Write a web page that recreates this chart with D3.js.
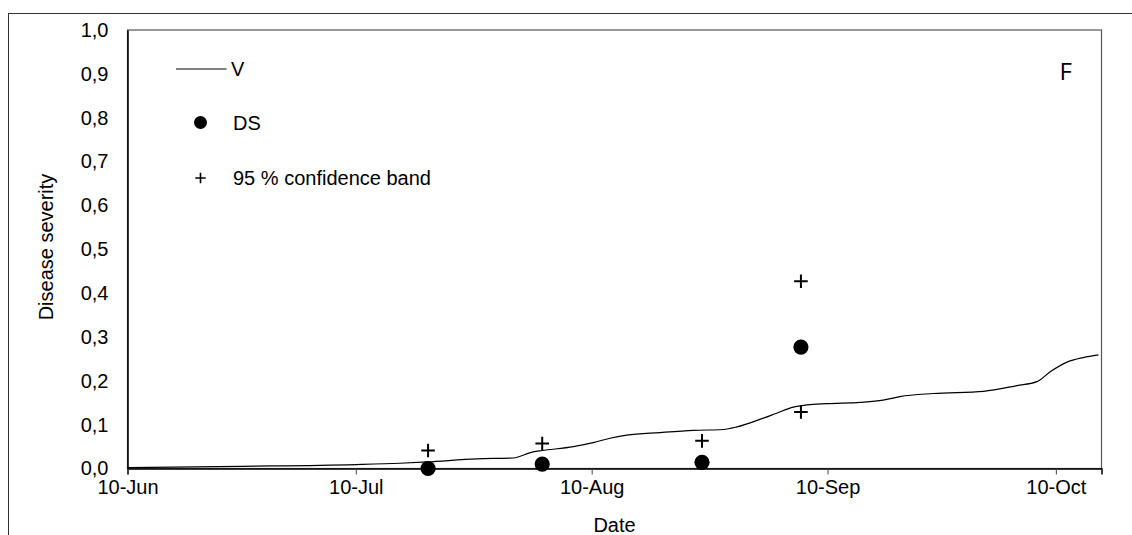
<!DOCTYPE html>
<html>
<head>
<meta charset="utf-8">
<script src="https://cdn.jsdelivr.net/npm/d3@7"></script>
<style>
  html, body { margin: 0; padding: 0; background: #fff; }
  svg { display: block; font-family: "Liberation Sans", Arial, sans-serif; }
</style>
</head>
<body>
<svg id="chart" width="1132" height="535"></svg>
<script>
// ---- data (days after 10-Jun) ----
const tickDays = [0, 30, 61, 92, 122];
const tickLabels = ["10-Jun", "10-Jul", "10-Aug", "10-Sep", "10-Oct"];
const yTickValues = [0, 0.1, 0.2, 0.3, 0.4, 0.5, 0.6, 0.7, 0.8, 0.9, 1.0];

const vDays = [0, 15, 30, 35.8, 39.4, 45.9, 50.7, 53.3, 54.5, 58.6, 61.2, 63.4, 65.6, 70.0, 74.4, 78.3, 80.1, 83.1, 85.3, 87.5, 89.3, 91.9, 96.3, 99.3, 101.5, 105.9, 112.5, 116.9, 119.5, 121.3, 123.4, 125.6, 127.6];
const vValues = [0.002, 0.005, 0.009, 0.012, 0.015, 0.022, 0.024, 0.038, 0.041, 0.050, 0.059, 0.069, 0.076, 0.082, 0.087, 0.089, 0.095, 0.112, 0.126, 0.140, 0.145, 0.148, 0.151, 0.156, 0.164, 0.171, 0.176, 0.189, 0.198, 0.221, 0.242, 0.253, 0.259];

const dsDays = [39.5, 54.5, 75.5, 88.5];
const dsValues = [0.0, 0.010, 0.014, 0.277];

const upperDays = [39.5, 54.5, 75.5, 88.5];
const upperValues = [0.041, 0.057, 0.063, 0.427];
const lowerDays = [88.5];
const lowerValues = [0.129];

const legendLabels = ["V", "DS", "95 % confidence band"];
const panelLabel = "F";

// ---- drawing ----
const svg = d3.select("#chart");
const pLeft = 127.5, pRight = 1101.5, pTop = 30, pBottom = 468.5;

const x = d3.scaleLinear().domain([0, 128]).range([pLeft, pRight]);
const y = d3.scaleLinear().domain([0, 1]).range([pBottom, pTop]);

// outer frame
svg.append("rect")
  .attr("x", 8.5).attr("y", 13.5)
  .attr("width", 1140).attr("height", 540)
  .attr("fill", "none").attr("stroke", "#333").attr("stroke-width", 1);

// plot frame
svg.append("rect")
  .attr("x", pLeft).attr("y", pTop)
  .attr("width", pRight - pLeft).attr("height", pBottom - pTop)
  .attr("fill", "none").attr("stroke", "#555").attr("stroke-width", 1.2);

// x axis
const xAxis = d3.axisBottom(x)
  .tickValues(tickDays)
  .tickFormat((d, i) => tickLabels[i])
  .tickSize(6)
  .tickPadding(5);
const gx = svg.append("g").attr("transform", `translate(0,${pBottom})`).call(xAxis);
gx.select(".domain").attr("stroke", "#000").attr("stroke-width", 1.5);
gx.selectAll(".tick line").attr("stroke", "#444").attr("stroke-width", 1);
gx.selectAll(".tick text").attr("font-size", 20).attr("fill", "#000")
  .attr("font-family", "Liberation Sans, Arial, sans-serif");

// y axis
const yAxis = d3.axisLeft(y)
  .tickValues(yTickValues)
  .tickFormat(d => d3.format(".1f")(d).replace(".", ","))
  .tickSize(0)
  .tickPadding(19);
const gy = svg.append("g").attr("transform", `translate(${pLeft},0)`).call(yAxis);
gy.select(".domain").attr("stroke", "#000").attr("stroke-width", 1.5);
gy.selectAll(".tick text").attr("font-size", 20).attr("fill", "#000")
  .attr("font-family", "Liberation Sans, Arial, sans-serif");

// axis titles
svg.append("text")
  .attr("x", (pLeft + pRight) / 2).attr("y", 532)
  .attr("text-anchor", "middle").attr("font-size", 20)
  .text("Date");
svg.append("text")
  .attr("transform", `translate(53,${247}) rotate(-90)`)
  .attr("text-anchor", "middle").attr("font-size", 20)
  .text("Disease severity");

// V curve
const vData = vDays.map((d, i) => [d, vValues[i]]);
svg.append("path")
  .datum(vData)
  .attr("fill", "none").attr("stroke", "#000").attr("stroke-width", 1.2)
  .attr("d", d3.line().x(d => x(d[0])).y(d => y(d[1])).curve(d3.curveMonotoneX));

// plus helper
function plusPath(cx, cy, h) {
  return `M${cx - h},${cy}H${cx + h}M${cx},${cy - h}V${cy + h}`;
}

// confidence band pluses
const upperData = upperDays.map((d, i) => [d, upperValues[i]]);
const lowerData = lowerDays.map((d, i) => [d, lowerValues[i]]);
svg.append("g").selectAll("path")
  .data(upperData.concat(lowerData))
  .join("path")
  .attr("d", d => plusPath(x(d[0]), y(d[1]), 6.8))
  .attr("stroke", "#000").attr("stroke-width", 2).attr("fill", "none");

// DS dots
const dsData = dsDays.map((d, i) => [d, dsValues[i]]);
svg.append("g").selectAll("circle")
  .data(dsData)
  .join("circle")
  .attr("cx", d => x(d[0])).attr("cy", d => y(d[1]))
  .attr("r", 7.6).attr("fill", "#000");

// legend
const lg = svg.append("g");
lg.append("line").attr("x1", 176).attr("x2", 226.5).attr("y1", 69).attr("y2", 69)
  .attr("stroke", "#000").attr("stroke-width", 1);
lg.append("circle").attr("cx", 200.5).attr("cy", 122.5).attr("r", 6.5).attr("fill", "#000");
lg.append("path").attr("d", plusPath(200.5, 178, 5.2))
  .attr("stroke", "#000").attr("stroke-width", 1.6).attr("fill", "none");
const legendY = [76, 129.5, 184.5];
legendLabels.forEach((t, i) => {
  lg.append("text").attr("x", i === 0 ? 231 : 233).attr("y", legendY[i])
    .attr("font-size", 20).text(t);
});

// panel label
svg.append("text")
  .attr("x", 1059.5).attr("y", 79.5)
  .attr("font-size", 24)
  .attr("font-family", "Open Sans, sans-serif")
  .text(panelLabel);
</script>
</body>
</html>
